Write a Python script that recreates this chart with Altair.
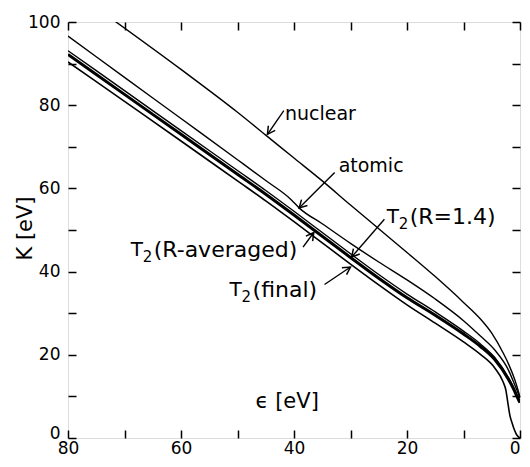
import math
import altair as alt
import pandas as pd

FONT = "DejaVu Sans"

# ---- curve data (epsilon [eV], K [eV]) ----
eps_nuclear = [72, 60, 50, 45, 40, 35, 30, 25, 20, 15, 10, 7, 5, 3, 2, 1, 0.5, 0]
K_nuclear = [100.5, 88.6, 78.3, 72.8, 67.3, 61.8, 56.0, 50.3, 44.6, 38.8, 32.6, 28.6, 25.2, 20.5, 17.7, 14.3, 12.2, 9.8]

eps_atomic = [80, 70, 60, 50, 45, 40.5, 39, 35, 30, 25, 20, 15, 10, 7, 4.5, 2, 1, 0.4, 0]
K_atomic = [96.6, 86.7, 76.8, 66.9, 61.9, 57.3, 55.2, 51.5, 46.8, 42.3, 38.0, 33.4, 28.2, 24.5, 21.2, 16.2, 13.0, 11.0, 9.6]

eps_T2 = [80, 70, 60, 50, 45, 40, 35, 30, 25, 20, 15, 10, 7, 4.5, 2, 1, 0.4, 0]
K_R14 = [93.1, 83.5, 73.9, 64.3, 59.5, 54.5, 49.4, 44.3, 39.3, 34.6, 30.3, 25.7, 22.6, 19.4, 14.4, 11.8, 10.0, 9.0]
K_Ravg = [92.2, 82.6, 73.0, 63.4, 58.6, 53.6, 48.5, 43.4, 38.4, 33.7, 29.5, 25.0, 22.0, 18.9, 14.0, 11.4, 9.6, 8.5]

eps_final = [80, 70, 60, 50, 45, 40, 35, 30, 25, 20, 15, 10, 7, 4.5, 3, 2.5, 2.1, 1.8, 1.4, 1.0, 0.5, 0]
K_final = [90.4, 80.9, 71.4, 61.8, 57.0, 52.0, 46.9, 41.8, 36.8, 32.0, 27.6, 23.1, 20.1, 16.9, 13.5, 11.5, 8.0, 5.5, 3.6, 2.0, 0.6, 0]

series_names = ["nuclear", "atomic", "R14", "Ravg", "final"]
series_widths = [1.4, 1.4, 1.4, 3.0, 1.6]

# ---- annotations ----
plain_labels = ["nuclear", "atomic"]
plain_eps = [41.6, 32.1]
plain_K = [77.8, 65.5]

t2_rest = ["(R=1.4)", "(R-averaged)", "(final)"]
t2_eps = [23.6, 68.9, 51.4]
t2_K = [53.1, 45.3, 35.6]

arrow_tail_eps = [41.8, 32.8, 24.0, 38.4, 34.6]
arrow_tail_K = [78.7, 63.8, 52.6, 45.9, 36.9]
arrow_tip_eps = [44.7, 39.1, 29.8, 36.5, 30.0]
arrow_tip_K = [73.0, 55.3, 43.5, 49.4, 41.1]

xtitle_text = ["ϵ [eV]"]
xtitle_eps = [41.2]
xtitle_K = [8.7]

W, H = 452, 416
PX_E = W / 80.0
PX_K = H / 100.0

rows = []
for name, es, ks, w in zip(series_names,
                           [eps_nuclear, eps_atomic, eps_T2, eps_T2, eps_final],
                           [K_nuclear, K_atomic, K_R14, K_Ravg, K_final],
                           series_widths):
    for e, k in zip(es, ks):
        rows.append({"series": name, "eps": e, "K": k, "w": w})
curves = pd.DataFrame(rows)

arrows = pd.DataFrame({
    "e0": arrow_tail_eps, "k0": arrow_tail_K,
    "e1": arrow_tip_eps, "k1": arrow_tip_K,
})
arrows["ang"] = [
    math.degrees(math.atan2(-(k1 - k0) * PX_K, -(e1 - e0) * PX_E)) % 360
    for e0, k0, e1, k1 in zip(arrows.e0, arrows.k0, arrows.e1, arrows.k1)
]

plain_df = pd.DataFrame({"txt": plain_labels, "eps": plain_eps, "K": plain_K})
t2_df = pd.DataFrame({"rest": t2_rest, "eps": t2_eps, "K": t2_K})
xt_df = pd.DataFrame({"txt": xtitle_text, "eps": xtitle_eps, "K": xtitle_K})

xscale = alt.Scale(domain=[0, 80], reverse=True, nice=False, zero=False)
yscale = alt.Scale(domain=[0, 100], nice=False, zero=False)

lines = alt.Chart(curves).mark_line(color="black", interpolate="monotone", clip=True).encode(
    x=alt.X("eps:Q", scale=xscale, axis=alt.Axis(
        orient="bottom", values=[0, 20, 40, 60, 80], ticks=False, domain=False, grid=False,
        labelFont=FONT, labelFontSize=17, labelColor="black", labelPadding=2,
        labelAlign=alt.condition("datum.value == 0", alt.value("right"), alt.value("center")),
        labelFlush=False, title=None, format="d")),
    y=alt.Y("K:Q", scale=yscale, axis=alt.Axis(
        orient="left", values=[0, 20, 40, 60, 80, 100], ticks=False, domain=False, grid=False,
        labelFont=FONT, labelFontSize=17, labelColor="black", labelPadding=8,
        labelBaseline=alt.condition("datum.value == 0", alt.value("alphabetic"), alt.value("middle")),
        labelFlush=False, format="d", title="K [eV]", titleFont=FONT, titleFontSize=21,
        titleFontWeight="normal", titleColor="black", titleX=-43, titleY=206,
        titleAlign="center", titleBaseline="middle", titleAngle=270)),
    detail="series:N",
    strokeWidth=alt.StrokeWidth("w:Q", scale=None),
)


def tick_axis(orient, vals):
    return alt.Axis(orient=orient, values=vals, labels=False, domain=False, grid=False,
                    ticks=True, tickSize=8, tickWidth=1.5, tickColor="black",
                    offset=-8, title=None)


xt = list(range(0, 81, 10))
yt = list(range(0, 101, 10))

ticks_bl = alt.Chart(curves).mark_point(opacity=0).encode(
    x=alt.X("eps:Q", scale=xscale, axis=tick_axis("bottom", xt)),
    y=alt.Y("K:Q", scale=yscale, axis=tick_axis("left", yt)),
)
ticks_tr = alt.Chart(curves).mark_point(opacity=0).encode(
    x=alt.X("eps:Q", scale=xscale, axis=tick_axis("top", xt)),
    y=alt.Y("K:Q", scale=yscale, axis=tick_axis("right", yt)),
)

plain_text = alt.Chart(plain_df).mark_text(
    font=FONT, fontSize=19, align="left", baseline="middle", color="black"
).encode(
    x=alt.X("eps:Q", scale=xscale, axis=None),
    y=alt.Y("K:Q", scale=yscale, axis=None),
    text="txt:N",
)

t_text = alt.Chart(t2_df).mark_text(
    font=FONT, fontSize=20, align="left", baseline="middle", color="black"
).encode(
    x=alt.X("eps:Q", scale=xscale, axis=None),
    y=alt.Y("K:Q", scale=yscale, axis=None),
    text=alt.value("T"),
)
sub_text = alt.Chart(t2_df).mark_text(
    font=FONT, fontSize=15, align="left", baseline="middle", color="black", dx=12, dy=7
).encode(
    x=alt.X("eps:Q", scale=xscale, axis=None),
    y=alt.Y("K:Q", scale=yscale, axis=None),
    text=alt.value("2"),
)
rest_text = alt.Chart(t2_df).mark_text(
    font=FONT, fontSize=22, align="left", baseline="middle", color="black", dx=23
).encode(
    x=alt.X("eps:Q", scale=xscale, axis=None),
    y=alt.Y("K:Q", scale=yscale, axis=None),
    text="rest:N",
)

xtitle = alt.Chart(xt_df).mark_text(
    font=FONT, fontSize=21, align="center", baseline="middle", color="black"
).encode(
    x=alt.X("eps:Q", scale=xscale, axis=None),
    y=alt.Y("K:Q", scale=yscale, axis=None),
    text="txt:N",
)

arrow_lines = alt.Chart(arrows).mark_rule(color="black", strokeWidth=1.4).encode(
    x=alt.X("e0:Q", scale=xscale, axis=None),
    y=alt.Y("k0:Q", scale=yscale, axis=None),
    x2="e1:Q",
    y2="k1:Q",
)
arrow_heads = alt.Chart(arrows).mark_point(
    shape="M -1 -0.55 L 0 0 L -1 0.55", filled=False, color="black",
    strokeWidth=1.5, size=230, opacity=1
).encode(
    x=alt.X("e1:Q", scale=xscale, axis=None),
    y=alt.Y("k1:Q", scale=yscale, axis=None),
    angle=alt.Angle("ang:Q", scale=None),
)

chart = alt.layer(
    lines, ticks_bl, ticks_tr, plain_text, t_text, sub_text, rest_text,
    xtitle, arrow_lines, arrow_heads
).resolve_axis(
    x="independent", y="independent"
).properties(
    width=W, height=H,
    autosize=alt.AutoSizeParams(type="none"),
    padding={"left": 60, "top": 14, "right": 2, "bottom": 20},
).configure_view(
    stroke="black", strokeWidth=2.2
).configure(background="white")

chart.save("out.html", embed_options={"renderer": "svg", "actions": False})
